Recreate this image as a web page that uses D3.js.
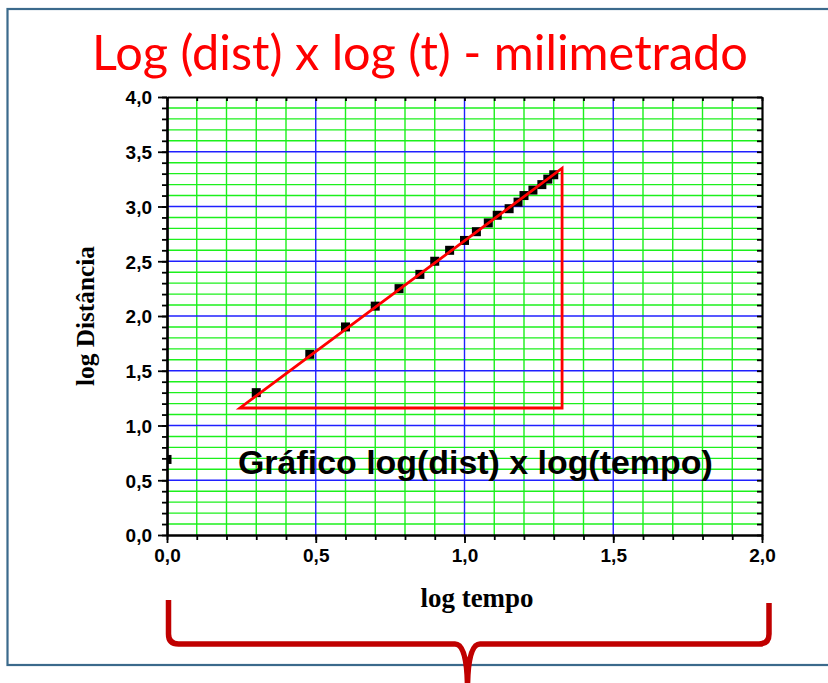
<!DOCTYPE html>
<html>
<head>
<meta charset="utf-8">
<script src="https://cdn.jsdelivr.net/npm/d3@7/dist/d3.min.js"></script>
<style>
  html, body { margin: 0; padding: 0; background: #ffffff; }
  svg { display: block; }
</style>
</head>
<body>
<script>
// Queda livre: log da distância em função do log do tempo
const logTempo = [0.00, 0.30, 0.48, 0.60, 0.70, 0.78, 0.85, 0.90, 0.95, 1.00,
                  1.04, 1.08, 1.11, 1.15, 1.18, 1.20, 1.23, 1.26, 1.28, 1.30];
const logDist  = [0.69, 1.30, 1.65, 1.90, 2.09, 2.25, 2.38, 2.50, 2.60, 2.69,
                  2.77, 2.85, 2.92, 2.98, 3.04, 3.10, 3.15, 3.20, 3.25, 3.29];

// Triângulo da reta ajustada (vértices em coordenadas do gráfico)
const trianguloX = [0.245, 1.328, 1.328];
const trianguloY = [1.16, 1.16, 3.35];

const xTicks = [0, 0.5, 1.0, 1.5, 2.0];
const yTicks = [0, 0.5, 1.0, 1.5, 2.0, 2.5, 3.0, 3.5, 4.0];
const xMinor = d3.range(0, 21).map(i => i / 10);
const yMinor = d3.range(0, 41).map(i => i / 10);

const titulo = "Log (dist) x log (t) - milimetrado";
const legendaInterna = "Gráfico log(dist) x log(tempo)";
const rotuloX = "log tempo";
const rotuloY = "log Distância";

const W = 828, H = 683;
const plot = { left: 167, right: 762, top: 97, bottom: 535 };
const fmt = d => d3.format(".1f")(d).replace(".", ",");

const svg = d3.select("body").append("svg").attr("width", W).attr("height", H);

// ajusta o tamanho da fonte para ocupar a largura desejada
function fitWidth(sel, base, target) {
  const w = sel.node().getComputedTextLength();
  sel.attr("font-size", base * target / w);
}

// moldura do slide
svg.append("rect")
  .attr("x", 7.5).attr("y", 9).attr("width", 840).attr("height", 656)
  .attr("fill", "none").attr("stroke", "#3b6a8c").attr("stroke-width", 2.2);

// título
const t = svg.append("text")
  .attr("x", 420).attr("y", 70)
  .attr("text-anchor", "middle")
  .attr("font-family", "Lato, 'Open Sans', sans-serif")
  .attr("font-size", 48)
  .attr("fill", "#ff0000")
  .text(titulo);
fitWidth(t, 48, 656);

const x = d3.scaleLinear().domain([0, 2]).range([plot.left, plot.right]);
const y = d3.scaleLinear().domain([0, 4]).range([plot.bottom, plot.top]);

// papel milimetrado
const grid = svg.append("g");
const isMajor = v => Math.abs(v * 2 - Math.round(v * 2)) < 1e-6;
grid.selectAll("line.gx").data(xMinor.filter(v => v > 0 && v < 2 && !isMajor(v))).join("line")
  .attr("x1", d => x(d)).attr("x2", d => x(d)).attr("y1", plot.top).attr("y2", plot.bottom)
  .attr("stroke", "#1cf01c").attr("stroke-width", 1.4);
grid.selectAll("line.gy").data(yMinor.filter(v => v > 0 && v < 4 && !isMajor(v))).join("line")
  .attr("y1", d => y(d)).attr("y2", d => y(d)).attr("x1", plot.left).attr("x2", plot.right)
  .attr("stroke", "#1cf01c").attr("stroke-width", 1.4);
grid.selectAll("line.bx").data(xTicks.filter(v => v > 0 && v < 2)).join("line")
  .attr("x1", d => x(d)).attr("x2", d => x(d)).attr("y1", plot.top).attr("y2", plot.bottom)
  .attr("stroke", "#2020ff").attr("stroke-width", 1.4);
grid.selectAll("line.by").data(yTicks.filter(v => v > 0 && v < 4)).join("line")
  .attr("y1", d => y(d)).attr("y2", d => y(d)).attr("x1", plot.left).attr("x2", plot.right)
  .attr("stroke", "#2020ff").attr("stroke-width", 1.4);

// pontos experimentais, recortados pela área do gráfico
svg.append("clipPath").attr("id", "area")
  .append("rect").attr("x", plot.left).attr("y", plot.top)
  .attr("width", plot.right - plot.left).attr("height", plot.bottom - plot.top);
const pts = logTempo.map((v, i) => ({ x: v, y: logDist[i] }));
svg.append("g").attr("clip-path", "url(#area)")
  .selectAll("rect").data(pts).join("rect")
  .attr("x", d => x(d.x) - 4.5).attr("y", d => y(d.y) - 4.5)
  .attr("width", 9).attr("height", 9).attr("fill", "#000");

// triângulo da inclinação
const tri = trianguloX.map((v, i) => [x(v), y(trianguloY[i])]);
svg.append("path")
  .attr("d", d3.line()(tri) + "Z")
  .attr("fill", "none").attr("stroke", "#ff0000").attr("stroke-width", 2.8)
  .attr("stroke-linejoin", "miter");

// eixos
function styleAxis(g) {
  g.selectAll("path.domain").attr("stroke", "#000").attr("stroke-width", 2.2);
  g.selectAll(".tick line").attr("stroke", "#000").attr("stroke-width", 1.8);
  g.selectAll("text").attr("font-family", "'Liberation Sans', Arial, sans-serif")
    .attr("font-weight", "bold").attr("font-size", 19).attr("fill", "#000");
}
const axB = svg.append("g").attr("transform", `translate(0,${plot.bottom})`)
  .call(d3.axisBottom(x).tickValues(xMinor).tickSize(5).tickFormat("").tickSizeOuter(0));
const axBM = svg.append("g").attr("transform", `translate(0,${plot.bottom})`)
  .call(d3.axisBottom(x).tickValues(xTicks).tickSize(8).tickPadding(6).tickFormat(fmt).tickSizeOuter(0));
const axL = svg.append("g").attr("transform", `translate(${plot.left},0)`)
  .call(d3.axisLeft(y).tickValues(yMinor).tickSize(5).tickFormat("").tickSizeOuter(0));
const axLM = svg.append("g").attr("transform", `translate(${plot.left},0)`)
  .call(d3.axisLeft(y).tickValues(yTicks).tickSize(9).tickPadding(6).tickFormat(fmt).tickSizeOuter(0));
const axT = svg.append("g").attr("transform", `translate(0,${plot.top})`)
  .call(d3.axisTop(x).tickValues(xMinor).tickSize(-4).tickFormat("").tickSizeOuter(0));
const axR = svg.append("g").attr("transform", `translate(${plot.right},0)`)
  .call(d3.axisRight(y).tickValues(yMinor).tickSize(-5).tickFormat("").tickSizeOuter(0));
[axB, axBM, axL, axLM, axT, axR].forEach(styleAxis);
axBM.selectAll("text").attr("dy", "0.71em");
axLM.selectAll("text").attr("dy", "0.36em");

// rótulos dos eixos
const lx = svg.append("text")
  .attr("x", 477).attr("y", 607).attr("text-anchor", "middle")
  .attr("font-family", "'Liberation Serif', 'Times New Roman', serif")
  .attr("font-weight", "bold").attr("font-size", 20).text(rotuloX);
fitWidth(lx, 20, 113);
const ly = svg.append("text")
  .attr("transform", "translate(94,316) rotate(-90)").attr("text-anchor", "middle")
  .attr("font-family", "'Liberation Serif', 'Times New Roman', serif")
  .attr("font-weight", "bold").attr("font-size", 20).text(rotuloY);
fitWidth(ly, 20, 140);

// legenda dentro do gráfico
const lg = svg.append("text")
  .attr("x", 238).attr("y", 474)
  .attr("font-family", "'Liberation Sans', Arial, sans-serif")
  .attr("font-weight", "bold").attr("font-size", 28).attr("fill", "#000")
  .text(legendaInterna);
fitWidth(lg, 28, 475);

// chave sob o eixo horizontal
const c = [
  [168.5, 600], [168.5, 634], [178.5, 644], [455, 644], [467.5, 652], [467.5, 690],
  [467.5, 652], [480, 644], [759, 644], [769, 634], [769, 603]
];
const bracePath =
  `M${c[0]}L${c[1]}Q${c[1][0]},${c[2][1]} ${c[2]}L${c[3]}` +
  `Q${c[4][0]},${c[3][1]} ${c[4][0]},${c[5][1]}` +
  `M${c[7]}Q${c[6][0]},${c[7][1]} ${c[6][0]},${c[5][1]}` +
  `M${c[7]}L${c[8]}Q${c[9][0]},${c[8][1]} ${c[9]}L${c[10]}`;
svg.append("path").attr("d", bracePath)
  .attr("fill", "none").attr("stroke", "#c00000").attr("stroke-width", 5.5)
  .attr("stroke-linecap", "butt").attr("stroke-linejoin", "round");
</script>
</body>
</html>
